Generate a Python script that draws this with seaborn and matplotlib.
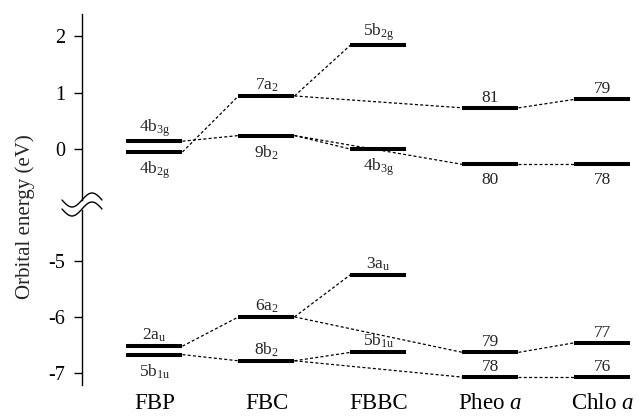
import numpy as np
import pandas as pd
import matplotlib.pyplot as plt
from matplotlib.lines import Line2D
import seaborn as sns

compounds = ['FBP', 'FBC', 'FBBC', r'Pheo $\mathit{a}$', r'Chlo $\mathit{a}$']

# unoccupied levels (upper panel)
up_pos = [0, 0, 1, 1, 2, 2, 3, 3, 4, 4]
up_energy = [0.14, -0.05, 0.94, 0.24, 1.84, 0.00, 0.73, -0.27, 0.88, -0.27]
up_names = [r'4b$_{3g}$', r'4b$_{2g}$', r'7a$_{2}$', r'9b$_{2}$', r'5b$_{2g}$',
            r'4b$_{3g}$', '81', '80', '79', '78']
up_above = [1, 0, 1, 0, 1, 0, 1, 0, 1, 0]
up_links = [(0, 3), (1, 2), (2, 4), (2, 6), (3, 5), (3, 7), (6, 8), (7, 9)]

# occupied levels (lower panel)
lo_pos = [0, 0, 1, 1, 2, 2, 3, 3, 4, 4]
lo_energy = [-6.52, -6.67, -6.00, -6.78, -5.25, -6.63, -6.63, -7.07, -6.46, -7.07]
lo_names = [r'2a$_{u}$', r'5b$_{1u}$', r'6a$_{2}$', r'8b$_{2}$', r'3a$_{u}$',
            r'5b$_{1u}$', '79', '78', '77', '76']
lo_above = [1, 0, 1, 1, 1, 1, 1, 1, 1, 1]
lo_links = [(0, 2), (1, 3), (2, 4), (2, 6), (3, 5), (3, 7), (6, 8), (7, 9)]

sns.set_theme(style='ticks')
plt.rcParams['font.family'] = ['Liberation Serif', 'DejaVu Serif']
plt.rcParams['mathtext.fontset'] = 'custom'
plt.rcParams['mathtext.rm'] = 'Liberation Serif'
plt.rcParams['mathtext.it'] = 'Liberation Serif:italic'
plt.rcParams['mathtext.default'] = 'regular'
plt.rcParams['axes.unicode_minus'] = False

W, H = 639, 418
fig = plt.figure(figsize=(W / 100, H / 100), dpi=100)
left = 82 / W
ax_up = fig.add_axes([left, 1 - 200 / H, 1 - left, (200 - 14) / H])
ax_lo = fig.add_axes([left, 1 - 385 / H, 1 - left, (385 - 210) / H])

half = 0.25


def draw_panel(ax, pos, energy, names, above, links):
    pos = np.array(pos, dtype=float)
    energy = np.array(energy)
    # dashed correlation lines
    rows = []
    for k, (i, j) in enumerate(links):
        rows.append({'link': k, 'x': pos[i] + half, 'e': energy[i]})
        rows.append({'link': k, 'x': pos[j] - half, 'e': energy[j]})
    df = pd.DataFrame(rows)
    sns.lineplot(data=df, x='x', y='e', units='link', estimator=None, ax=ax,
                 color='black', lw=0.9, linestyle=(0, (2.4, 1.8)), legend=False)
    # levels
    ax.hlines(energy, pos - half, pos + half, color='black', lw=2.9, zorder=3)
    for x, e, name, a in zip(pos, energy, names, above):
        if a:
            ax.annotate(name, (x, e), xytext=(0, 1.5), textcoords='offset points',
                        ha='center', va='bottom', fontsize=12.5)
        else:
            ax.annotate(name, (x, e), xytext=(0, -5.5), textcoords='offset points',
                        ha='center', va='top', fontsize=12.5)


draw_panel(ax_up, up_pos, up_energy, up_names, up_above, up_links)
draw_panel(ax_lo, lo_pos, lo_energy, lo_names, lo_above, lo_links)

xl = (-0.647, 4.326)
ax_up.set_ylim(-0.90, 2.39)
ax_lo.set_ylim(-7.21, -4.10)
for ax in (ax_up, ax_lo):
    ax.set_xlim(*xl)
    ax.set_xlabel('')
    ax.set_ylabel('')
    sns.despine(ax=ax, top=True, right=True, bottom=True)
    ax.spines['left'].set_linewidth(1.0)
    ax.spines['left'].set_color('black')
    ax.tick_params(axis='y', direction='out', length=6, width=1, pad=6,
                   labelsize=14.5, colors='black')
    ax.set_facecolor('none')

ax_up.set_yticks([0, 1, 2])
ax_up.set_xticks([])
ax_lo.set_yticks([-7, -6, -5])
ax_lo.set_xticks(range(len(compounds)))
ax_lo.set_xticklabels(compounds, fontsize=16.5)
ax_lo.tick_params(axis='x', length=0, pad=6, colors='black')

fig.text(25 / W, 1 - 217 / H, 'Orbital energy (eV)', rotation=90,
         ha='center', va='center', fontsize=15)

# axis break marks
xs = np.linspace(62, 102, 60)
for c in (200, 209):
    ys = c - 7 * np.sin(2 * np.pi * (xs - 82) / 40)
    fig.add_artist(Line2D(xs / W, 1 - ys / H, transform=fig.transFigure,
                          color='black', lw=1))

fig.savefig('out.png', dpi=100)
